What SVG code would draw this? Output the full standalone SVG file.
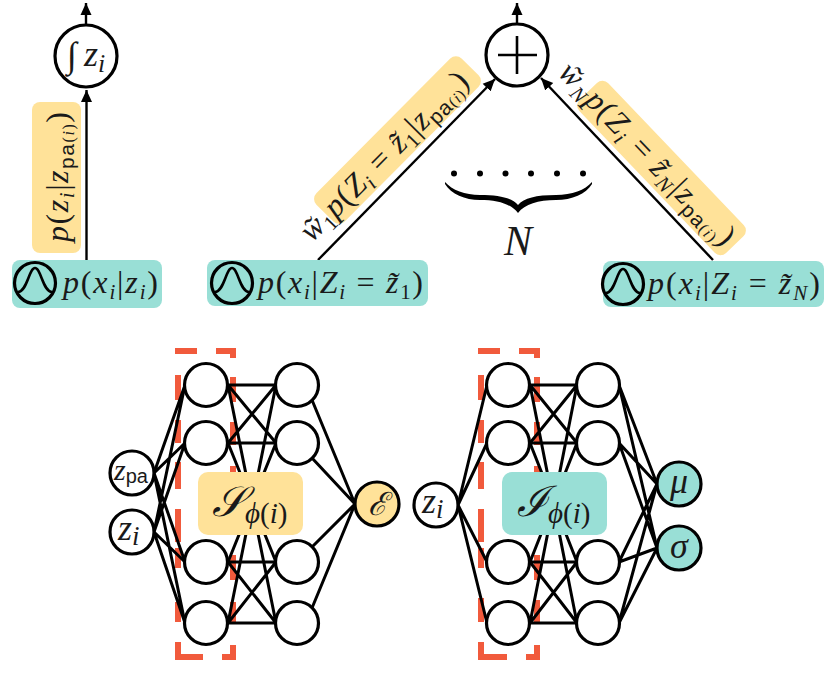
<svg xmlns="http://www.w3.org/2000/svg" width="837" height="674" viewBox="0 0 837 674" font-size="32">
<style>
text{font-family:"Liberation Serif","Times New Roman","DejaVu Serif",serif;fill:#1a1a1a}
.i{font-style:italic}
.sf{font-family:"Liberation Sans",Arial,sans-serif;font-style:normal}
.c{fill:#fff;stroke:#000;stroke-width:3.2}
.e{stroke:#000;stroke-width:3;fill:none}
.a{stroke:#000;stroke-width:2.4;fill:none}
.d{fill:none;stroke:#F15A3C;stroke-width:6}
.y{fill:#FFE299}.t{fill:#99DFD6}
</style>
<defs>
<marker id="ah" markerUnits="userSpaceOnUse" markerWidth="13" markerHeight="13" refX="12" refY="6.500" orient="auto"><path d="M0,1 L12,6.500 L0,12Z" fill="#000"/></marker>
<g id="bell"><circle r="20.5" fill="none" stroke="#000" stroke-width="3.200"/><path d="M-17,9 C-8,9 -6,-15 0,-15 C6,-15 8,9 17,9" fill="none" stroke="#000" stroke-width="2.600"/></g>
</defs>
<g id="labels-back">
<rect class="y" x="32" y="102" width="49" height="151" rx="8"/>
<rect class="y" x="-103" y="-20" width="206" height="40" rx="8" transform="translate(397.500 140) rotate(-45.200)"/>
<rect class="y" x="-106" y="-20" width="212" height="40" rx="8" transform="translate(661.500 168) rotate(46.300)"/>
</g>
<g id="connectors">
<path class="a" d="M86.500,260V90" marker-end="url(#ah)"/>
<path class="a" d="M86,25V3" marker-end="url(#ah)"/>
<path class="a" d="M318,260L495,79" marker-end="url(#ah)"/>
<path class="a" d="M713,260L541,78" marker-end="url(#ah)"/>
<path class="a" d="M517,24V3" marker-end="url(#ah)"/>
</g>
<g id="node-integral"><circle class="c" cx="86" cy="56" r="31"/>
<text class="i" x="67" y="67" font-size="36">∫<tspan x="84" dy="-1">z</tspan><tspan font-size="26" dy="6">i</tspan></text></g>
<g id="node-sum"><circle class="c" cx="517" cy="55" r="31"/>
<path d="M498,55H537M517,36V74" stroke="#000" stroke-width="2.600" fill="none"/></g>
<g id="node-p1"><rect class="t" x="12" y="260" width="150" height="48" rx="8"/><use href="#bell" x="35" y="283"/>
<text class="i" x="63" y="293" textLength="95">p<tspan font-style="normal">(</tspan>x<tspan font-size="21" dy="6">i</tspan><tspan font-style="normal" dy="-6">|</tspan>z<tspan font-size="21" dy="6">i</tspan><tspan font-style="normal" dy="-6">)</tspan></text></g>
<g id="node-p2"><rect class="t" x="207" y="260" width="221" height="46" rx="8"/><use href="#bell" x="232" y="283"/>
<text class="i" x="258" y="293" textLength="165">p<tspan font-style="normal">(</tspan>x<tspan font-size="21" dy="6">i</tspan><tspan font-style="normal" dy="-6">|</tspan>Z<tspan font-size="21" dy="6">i</tspan><tspan font-style="normal" dy="-6"> = </tspan>z̃<tspan font-size="21" font-style="normal" dy="6">1</tspan><tspan font-style="normal" dy="-6">)</tspan></text></g>
<g id="node-p3"><rect class="t" x="603" y="261" width="221" height="46" rx="8"/><use href="#bell" x="623" y="284"/>
<text class="i" x="648" y="294" textLength="172">p<tspan font-style="normal">(</tspan>x<tspan font-size="21" dy="6">i</tspan><tspan font-style="normal" dy="-6">|</tspan>Z<tspan font-size="21" dy="6">i</tspan><tspan font-style="normal" dy="-6"> = </tspan>z̃<tspan font-size="21" dy="6">N</tspan><tspan font-style="normal" dy="-6">)</tspan></text></g>
<g id="label-edge-left">
<text class="i" transform="translate(68 242) rotate(-90)" textLength="130">p<tspan font-style="normal">(</tspan>z<tspan font-size="21" dy="6">i</tspan><tspan font-style="normal" dy="-6">|</tspan>z<tspan class="sf" font-size="21" dy="6">pa</tspan><tspan font-size="16" font-style="normal">(</tspan><tspan font-size="16">i</tspan><tspan font-size="16" font-style="normal">)</tspan><tspan font-style="normal" dy="-6">)</tspan></text>
</g>
<g id="label-edge-mid">
<text class="i" transform="translate(312 243) rotate(-45.200)" textLength="225">w̃<tspan font-size="21" font-style="normal" dy="6">1</tspan><tspan dy="-6">p</tspan><tspan font-style="normal">(</tspan>Z<tspan font-size="21" dy="6">i</tspan><tspan font-style="normal" dy="-6"> = </tspan>z̃<tspan font-size="21" font-style="normal" dy="6">1</tspan><tspan font-style="normal" dy="-6">|</tspan>z<tspan class="sf" font-size="21" dy="6">pa</tspan><tspan font-size="16" font-style="normal">(</tspan><tspan font-size="16">i</tspan><tspan font-size="16" font-style="normal">)</tspan><tspan font-style="normal" dy="-6">)</tspan></text>
</g>
<g id="label-edge-right">
<text class="i" transform="translate(557 74) rotate(46.300)" textLength="240">w̃<tspan font-size="21" dy="6">N</tspan><tspan dy="-6">p</tspan><tspan font-style="normal">(</tspan>Z<tspan font-size="21" dy="6">i</tspan><tspan font-style="normal" dy="-6"> = </tspan>z̃<tspan font-size="21" dy="6">N</tspan><tspan font-style="normal" dy="-6">|</tspan>z<tspan class="sf" font-size="21" dy="6">pa</tspan><tspan font-size="16" font-style="normal">(</tspan><tspan font-size="16">i</tspan><tspan font-size="16" font-style="normal">)</tspan><tspan font-style="normal" dy="-6">)</tspan></text>
</g>
<g id="ellipsis">
<circle cx="454" cy="173.500" r="3"/><circle cx="480" cy="173.500" r="3"/><circle cx="505.500" cy="173.500" r="3"/><circle cx="531" cy="173.500" r="3"/><circle cx="557" cy="173.500" r="3"/><circle cx="583" cy="173.500" r="3"/>
<path d="M445,182 C452,190 465,195 480,195 C500,195 512,198 518,205 C524,198 536,195 556,195 C572,195 585,190 592,182 L592,184 C586,194 572,200 556,200 C538,200 525,204 518,213 C511,204 498,200 480,200 C465,200 451,194 445,184Z"/>
<text class="i" x="518" y="255" font-size="42" text-anchor="middle">N</text>
</g>
<g id="net-left-dash">
<path class="d" d="M175,351H197M216,351H233V358M178,375V400M178,420V443M178,462V489M178,509V542M178,548V568M178,602V622M178,642V657H203M222,657H233V645M233,377V402M233,422V445M233,466V480M233,555V580M233,602V622"/>
</g>
<g id="net-right-dash">
<path class="d" d="M478,351H500M519,351H537V358M481,375V400M481,420V443M481,462V489M481,509V542M481,548V568M481,598V622M481,642V657H507M526,657H537V645M537,377V402M537,422V445M537,466V480M537,555V580M537,600V622"/>
</g>
<g id="connectors-net">
<path class="e" d="M154,473L185,385M154,473L185,443M154,473L185,562M154,473L185,623M154,532L185,385M154,532L185,443M154,532L185,562M154,532L185,623"/>
<path class="e" d="M228,385H276M228,385L276,443M228,385L276,623M228,443L276,385M228,443H276M228,443L276,562M228,562L276,443M228,562H276M228,562L276,623M228,623L276,385M228,623L276,562M228,623H276"/>
<path class="e" d="M312,400L355,504M312,458L355,504M312,547L355,504M312,608L355,504"/>
<path class="e" d="M458,505L487,385M458,505L487,443M458,505L487,562M458,505L487,623"/>
<path class="e" d="M530,385H577M530,385L577,443M530,385L577,623M530,443L577,385M530,443H577M530,443L577,562M530,562L577,443M530,562H577M530,562L577,623M530,623L577,385M530,623L577,562M530,623H577"/>
<path class="e" d="M619,385L657,484M619,385L657,548M619,443L657,484M619,443L657,548M619,562L657,484M619,562L657,548M619,623L657,484M619,623L657,548"/>
</g>
<g id="n1a"><circle class="c" cx="206" cy="385" r="21.500"/></g>
<g id="n1b"><circle class="c" cx="206" cy="443" r="21.500"/></g>
<g id="n1c"><circle class="c" cx="206" cy="562" r="21.500"/></g>
<g id="n1d"><circle class="c" cx="206" cy="623" r="21.500"/></g>
<g id="n2a"><circle class="c" cx="297" cy="385" r="21.500"/></g>
<g id="n2b"><circle class="c" cx="297" cy="443" r="21.500"/></g>
<g id="n2c"><circle class="c" cx="297" cy="562" r="21.500"/></g>
<g id="n2d"><circle class="c" cx="297" cy="623" r="21.500"/></g>
<g id="n3a"><circle class="c" cx="508" cy="385" r="21.500"/></g>
<g id="n3b"><circle class="c" cx="508" cy="443" r="21.500"/></g>
<g id="n3c"><circle class="c" cx="508" cy="562" r="21.500"/></g>
<g id="n3d"><circle class="c" cx="508" cy="623" r="21.500"/></g>
<g id="n4a"><circle class="c" cx="598" cy="385" r="21.500"/></g>
<g id="n4b"><circle class="c" cx="598" cy="443" r="21.500"/></g>
<g id="n4c"><circle class="c" cx="598" cy="562" r="21.500"/></g>
<g id="n4d"><circle class="c" cx="598" cy="623" r="21.500"/></g>
<g id="zpa"><circle class="c" cx="132" cy="473" r="22"/><text class="i" x="114" y="480" font-size="30">z<tspan class="sf" font-size="20" dy="3">pa</tspan></text></g>
<g id="zi-left"><circle class="c" cx="132" cy="532" r="22"/><text class="i" x="118" y="540" font-size="36">z<tspan font-size="27" dy="5">i</tspan></text></g>
<g id="zi-right"><circle class="c" cx="436" cy="505" r="22"/><text class="i" x="422" y="513" font-size="36">z<tspan font-size="27" dy="5">i</tspan></text></g>
<g id="epsilon"><circle class="c" cx="377" cy="504" r="22" style="fill:#FFE299"/><text class="i" x="377" y="515" font-size="32" text-anchor="middle">ℰ</text></g>
<g id="mu"><circle class="c" cx="679" cy="484" r="22" style="fill:#99DFD6"/><text class="i" x="679" y="493" font-size="36" text-anchor="middle">μ</text></g>
<g id="sigma"><circle class="c" cx="679" cy="548" r="22" style="fill:#99DFD6"/><text class="i" x="679" y="558" font-size="36" text-anchor="middle">σ</text></g>
<g id="S-box"><rect class="y" x="198" y="472" width="105" height="63" rx="10"/><text class="i" x="212" y="516" font-size="42">𝒮<tspan font-size="29" dy="7">ϕ</tspan><tspan font-size="29" font-style="normal">(</tspan><tspan font-size="29">i</tspan><tspan font-size="29" font-style="normal">)</tspan></text></g>
<g id="I-box"><rect class="t" x="502" y="472" width="105" height="63" rx="10"/><text class="i" x="517" y="516" font-size="42">ℐ<tspan font-size="29" dy="7">ϕ</tspan><tspan font-size="29" font-style="normal">(</tspan><tspan font-size="29">i</tspan><tspan font-size="29" font-style="normal">)</tspan></text></g>
</svg>
